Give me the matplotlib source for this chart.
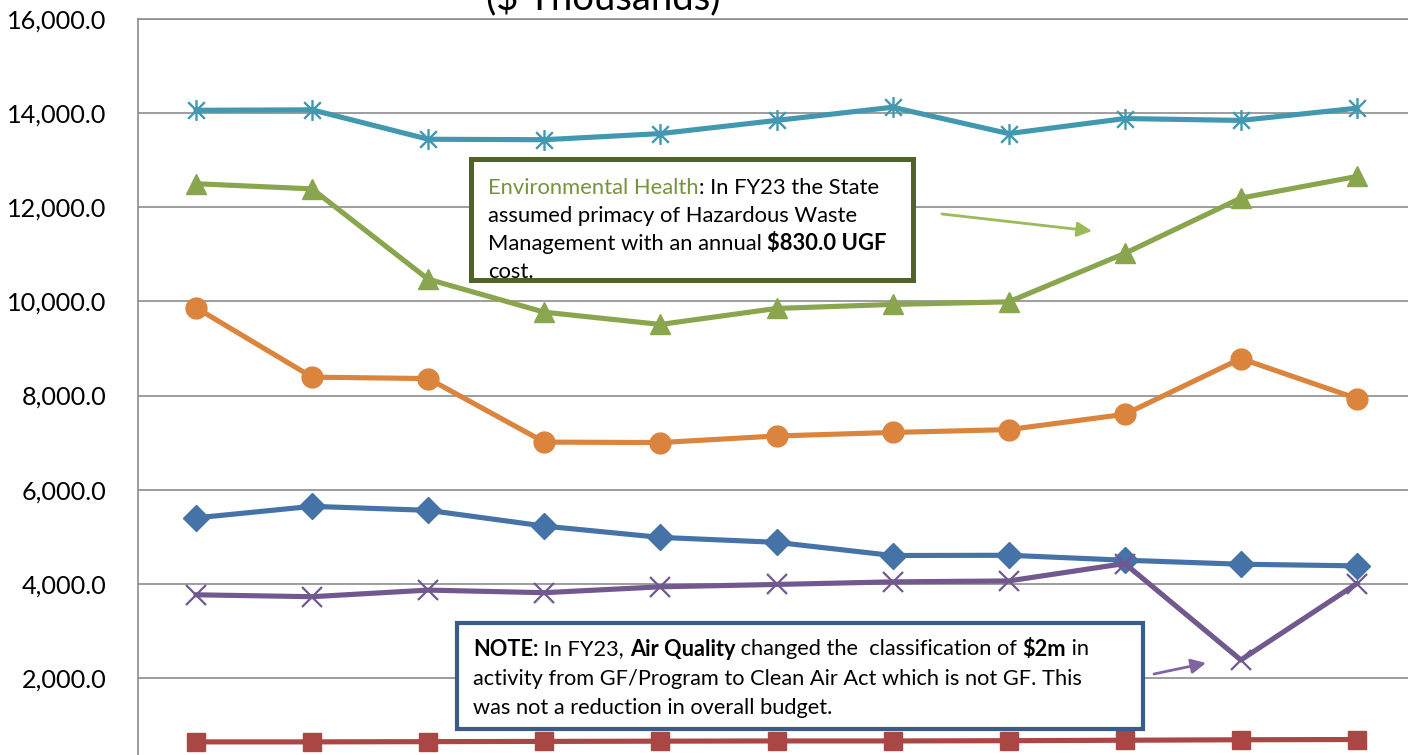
import matplotlib
matplotlib.use('Agg')
import matplotlib.pyplot as plt
from matplotlib.path import Path
from matplotlib.patches import Rectangle

# ---------------- data ----------------
years = ['FY14', 'FY15', 'FY16', 'FY17', 'FY18', 'FY19', 'FY20', 'FY21', 'FY22', 'FY23', 'FY24']
series_blue = [5400, 5645, 5560, 5225, 4985, 4880, 4600, 4605, 4500, 4415, 4380]
series_red = [640, 640, 645, 650, 655, 660, 660, 665, 675, 685, 690]
env_health = [12500, 12390, 10470, 9770, 9510, 9850, 9935, 9990, 11020, 12195, 12655]
air_quality = [3765, 3725, 3865, 3810, 3935, 3985, 4040, 4060, 4430, 2380, 4005]
series_teal = [14060, 14070, 13445, 13435, 13565, 13845, 14125, 13565, 13885, 13845, 14105]
series_orange = [9865, 8390, 8360, 7010, 7000, 7140, 7215, 7275, 7600, 8785, 7935]
yticks = [2000, 4000, 6000, 8000, 10000, 12000, 14000, 16000]

W, H = 1408, 755
FONT = 'Lato'
plt.rcParams['font.family'] = [FONT, 'DejaVu Sans']

fig = plt.figure(figsize=(W / 100, H / 100), dpi=100)
# plot area: left spine at x=138, 16000 at y=19, 0 at y=772 (below crop)
x_left, x_right = 138, 1415
y_top, y_zero = 19, 772
ax = fig.add_axes([x_left / W, (H - y_zero) / H, (x_right - x_left) / W, (y_zero - y_top) / H])

star = Path([(-1, -1), (1, 1), (-1, 1), (1, -1), (0, -1.25), (0, 1.25)],
            [Path.MOVETO, Path.LINETO, Path.MOVETO, Path.LINETO, Path.MOVETO, Path.LINETO])

x = list(range(len(years)))
lw = 3.7
ax.plot(x, series_blue, color='#4572A7', lw=lw, marker='D', ms=13, mec='#4572A7', zorder=3)
ax.plot(x, series_red, color='#AA4643', lw=lw, marker='s', ms=13, mec='#AA4643', zorder=3)
ax.plot(x, env_health, color='#89A54E', lw=lw, marker='^', ms=15, mec='#89A54E', zorder=3)
ax.plot(x, air_quality, color='#71588F', lw=lw, marker='x', ms=14, mew=1.6, zorder=3)
ax.plot(x, series_teal, color='#4198AF', lw=lw, marker=star, ms=15, mew=1.7, zorder=3)
ax.plot(x, series_orange, color='#DB843D', lw=lw, marker='o', ms=15, mec='#DB843D', zorder=3)

ax.set_xlim(-0.5, len(years) - 0.5)
ax.set_ylim(0, 16000)
ax.set_yticks(yticks)
ax.set_yticklabels([f'{v:,.1f}' for v in yticks])
ax.set_xticks([])
ax.tick_params(axis='y', length=0, pad=22.5, labelsize=18.2, labelcolor='#000000')
ax.grid(axis='y', color='#8C8C8C', lw=1.2, zorder=0)
ax.set_axisbelow(True)
for s in ['right', 'bottom']:
    ax.spines[s].set_visible(False)
ax.spines['left'].set_color('#8C8C8C')
ax.spines['left'].set_linewidth(1.2)
ax.spines['top'].set_color('#8C8C8C')
ax.spines['top'].set_linewidth(1.2)

# title (cropped at top in the reference)
fig.text(603 / W, 1 - 9 / H, '($ Thousands)', ha='center', va='baseline', fontsize=27.5, color='#000000')

# ---------------- annotation boxes ----------------
def px_rect(x0, y0, x1, y1, ec, lwid):
    r = Rectangle((x0 / W, 1 - y1 / H), (x1 - x0) / W, (y1 - y0) / H, transform=fig.transFigure,
                  fc='white', ec=ec, lw=lwid, zorder=5, joinstyle='miter')
    fig.add_artist(r)

renderer = fig.canvas.get_renderer()

def text_w(s, size, weight):
    t1 = fig.text(0, 0, s + 'l', fontsize=size, fontweight=weight)
    t2 = fig.text(0, 0, 'l', fontsize=size, fontweight=weight)
    w = t1.get_window_extent(renderer).width - t2.get_window_extent(renderer).width
    t1.remove(); t2.remove()
    return w

def draw_line(x0, yc, segments, size):
    xp = x0
    for s, weight, color in segments:
        fig.text(xp / W, 1 - yc / H, s, fontsize=size, fontweight=weight, color=color,
                 ha='left', va='center_baseline', zorder=6)
        xp += text_w(s, size, weight)

px_rect(470.5, 159.5, 912.5, 280.5, '#4F6228', 3.6)
fs1 = 15.8
draw_line(488, 186, [('Environmental Health', 'normal', '#77933C'),
                     (': In FY23 the State', 'normal', 'black')], fs1)
draw_line(488, 214, [('assumed primacy of Hazardous Waste', 'normal', 'black')], fs1)
draw_line(488, 242, [('Management with an annual ', 'normal', 'black'),
                     ('$830.0 UGF', 'bold', 'black')], fs1)
draw_line(488, 270, [('cost.', 'normal', 'black')], fs1)

px_rect(457, 623, 1143, 729, '#385D8A', 3.0)
fs2 = 15.7
draw_line(473, 647, [('NOTE:', 'bold', 'black'), (' In FY23, ', 'normal', 'black'),
                     ('Air Quality', 'bold', 'black'),
                     (' changed the  classification of ', 'normal', 'black'),
                     ('$2m', 'bold', 'black'), (' in', 'normal', 'black')], fs2)
draw_line(473, 677, [('activity from GF/Program to Clean Air Act which is not GF. This', 'normal', 'black')], fs2)
draw_line(473, 706, [('was not a reduction in overall budget.', 'normal', 'black')], fs2)

# ---------------- arrows ----------------
fig.add_artist(matplotlib.patches.FancyArrowPatch((942 / W, 1 - 214 / H), (1092 / W, 1 - 231 / H),
               transform=fig.transFigure, arrowstyle='-|>', mutation_scale=22, color='#9BBB59',
               lw=2, zorder=7, shrinkA=0, shrinkB=0))
fig.add_artist(matplotlib.patches.FancyArrowPatch((1154 / W, 1 - 674 / H), (1206 / W, 1 - 663 / H),
               transform=fig.transFigure, arrowstyle='-|>', mutation_scale=22, color='#8064A2',
               lw=2, zorder=7, shrinkA=0, shrinkB=0))

fig.savefig('out.png', dpi=100)
